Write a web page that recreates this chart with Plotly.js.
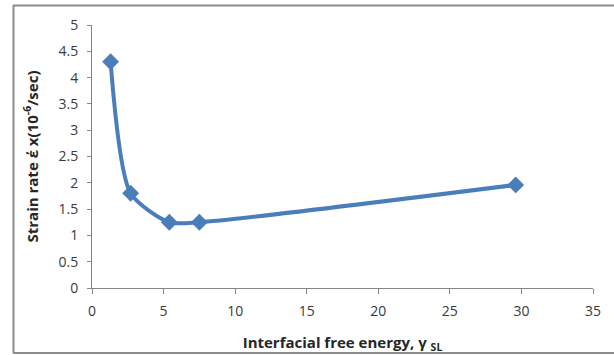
<!DOCTYPE html>
<html>
<head>
<meta charset="utf-8">
<script src="https://cdn.plot.ly/plotly-3.0.1.min.js"></script>
<style>html,body{margin:0;padding:0;background:#fff;}#chart{width:614px;height:355px;}</style>
</head>
<body>
<div id="chart"></div>
<script>
var interfacialEnergy = [1.3, 2.7, 5.4, 7.5, 29.6];
var strainRate = [4.3, 1.8, 1.25, 1.25, 1.96];
var xTickVals = [0, 5, 10, 15, 20, 25, 30, 35];
var yTickVals = [0, 0.5, 1, 1.5, 2, 2.5, 3, 3.5, 4, 4.5, 5];
var xTitle = 'Interfacial free energy, γ <sub>SL</sub>';
var yTitle = 'Strain rate έ x(10<sup>-6</sup>/sec)';

var plotL = 92, plotR = 593, plotT = 25, plotB = 288;
var W = 614, H = 355;
function px(x){ return (x - plotL) / (plotR - plotL); }
function py(y){ return (plotB - y) / (plotB - plotT); }

var trace = {
  x: interfacialEnergy,
  y: strainRate,
  type: 'scatter',
  mode: 'lines+markers',
  line: {color: '#4a7ebb', width: 4, shape: 'spline', smoothing: 0.7},
  marker: {symbol: 'diamond', size: 13, color: '#4a7ebb'},
  hoverinfo: 'none'
};

var tickFont = {family: 'Open Sans, sans-serif', size: 14, color: '#3a3a3a'};
var titleFont = {family: 'Open Sans, sans-serif', size: 15, color: '#262626', weight: 'bold'};

var axisCommon = {
  showgrid: false,
  zeroline: false,
  showline: true,
  linecolor: '#868686',
  linewidth: 1,
  ticks: 'outside',
  tickcolor: '#868686',
  ticklen: 5,
  tickwidth: 1,
  tickfont: tickFont
};

var layout = {
  width: W, height: H,
  margin: {l: plotL, r: W - plotR, t: plotT, b: H - plotB},
  paper_bgcolor: '#fff', plot_bgcolor: '#fff',
  showlegend: false,
  xaxis: Object.assign({}, axisCommon, {
    range: [0, 35], tickvals: xTickVals, ticktext: xTickVals.map(String),
    ticklabelstandoff: 5,
    title: {text: xTitle, font: titleFont, standoff: 18}
  }),
  yaxis: Object.assign({}, axisCommon, {
    range: [0, 5], tickvals: yTickVals, ticktext: yTickVals.map(String), ticklen: 4,
    ticklabelstandoff: 6,
    title: {text: yTitle, font: titleFont, standoff: 16}
  }),
  shapes: [
    {type: 'line', xref: 'paper', yref: 'paper', x0: px(13), x1: px(614), y0: py(5.5), y1: py(5.5), line: {color: '#8c8c8c', width: 2}},
    {type: 'line', xref: 'paper', yref: 'paper', x0: px(13.5), x1: px(13.5), y0: py(5), y1: py(353), line: {color: '#8c8c8c', width: 2}},
    {type: 'line', xref: 'paper', yref: 'paper', x0: px(13), x1: px(614), y0: py(353), y1: py(353), line: {color: '#8c8c8c', width: 2}}
  ]
};

Plotly.newPlot('chart', [trace], layout, {staticPlot: true, displayModeBar: false});
</script>
</body>
</html>
